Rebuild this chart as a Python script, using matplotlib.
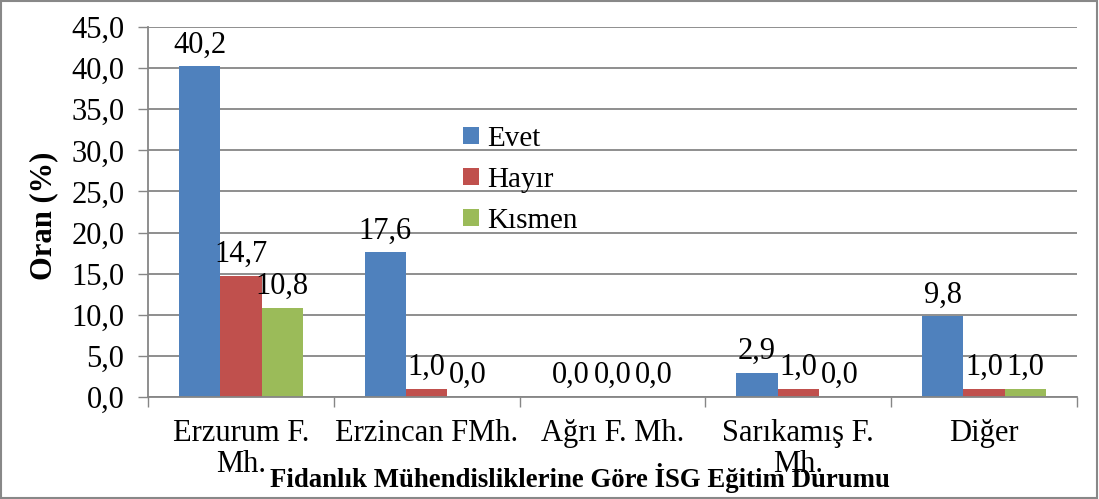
import matplotlib.pyplot as plt
import numpy as np
from matplotlib.patches import Rectangle

plt.rcParams['font.family'] = ['Liberation Serif', 'DejaVu Serif']

# veriler
kategoriler = ["Erzurum F.\nMh.", "Erzincan FMh.", "Ağrı F. Mh.", "Sarıkamış F.\nMh.", "Diğer"]
evet = [40.2, 17.6, 0.0, 2.9, 9.8]
hayir = [14.7, 1.0, 0.0, 1.0, 1.0]
kismen = [10.8, 0.0, 0.0, 0.0, 1.0]
seriler = ["Evet", "Hayır", "Kısmen"]
renkler = ["#4F81BD", "#C0504D", "#9BBB59"]

fs = 22

fig = plt.figure(figsize=(10.99, 4.99), dpi=100)
ax = fig.add_axes([148/1099, 1-397/499, (1077-148)/1099, 370/499])

x = np.arange(len(kategoriler))
w = 1/4.5
for i, (vals, ad, renk) in enumerate(zip([evet, hayir, kismen], seriler, renkler)):
    pos = x + (i-1)*w
    ax.bar(pos, vals, width=w, color=renk, label=ad, zorder=3)
    for px, v in zip(pos, vals):
        ax.annotate(("%.1f" % v).replace(".", ","), (px, v), xytext=(0, 5),
                    textcoords="offset points", ha="center", va="bottom", fontsize=fs)

ax.set_xlim(-0.5, len(kategoriler)-0.5)
ax.set_ylim(0, 45)
yt = np.arange(0, 46, 5)
ax.set_yticks(yt)
ax.set_yticklabels([("%.1f" % t).replace(".", ",") for t in yt])
ax.set_xticks(x)
ax.set_xticklabels(kategoriler, linespacing=1.08)
ax.set_xticks(np.arange(-0.5, len(kategoriler)), minor=True)
ax.tick_params(axis='x', which='major', length=0, pad=16, labelsize=fs)
ax.tick_params(axis='x', which='minor', length=7, color='#868686', width=1)
ax.tick_params(axis='y', length=7, color='#868686', width=1, pad=10, labelsize=fs)

ax.yaxis.grid(True, color='#868686', linewidth=1.3, zorder=0)
ax.set_axisbelow(True)
for s in ['top', 'right']:
    ax.spines[s].set_visible(False)
for s in ['left', 'bottom']:
    ax.spines[s].set_color('#868686')
    ax.spines[s].set_linewidth(1.3)
ax.spines['bottom'].set_zorder(4)

ax.set_ylabel("Oran (%)", fontsize=fs, fontweight='bold')
ax.yaxis.set_label_coords(-0.097, 0.49)
fig.text(580/1099, 1-478/499, "Fidanlık Mühendisliklerine Göre İSG Eğitim Durumu",
         ha='center', va='center', fontsize=19.3, fontweight='bold')

ax.legend(loc='upper left', bbox_to_anchor=(451/1099, 1-114/499), bbox_transform=fig.transFigure,
          frameon=False, fontsize=21, handlelength=0.55, handleheight=0.55,
          labelspacing=0.52, handletextpad=0.3, borderaxespad=0)

fig.patches.append(Rectangle((0.001, 0.002), 0.997, 0.995, transform=fig.transFigure,
                             fill=False, edgecolor='#888888', linewidth=1.5))

fig.savefig("out.png", dpi=100)
